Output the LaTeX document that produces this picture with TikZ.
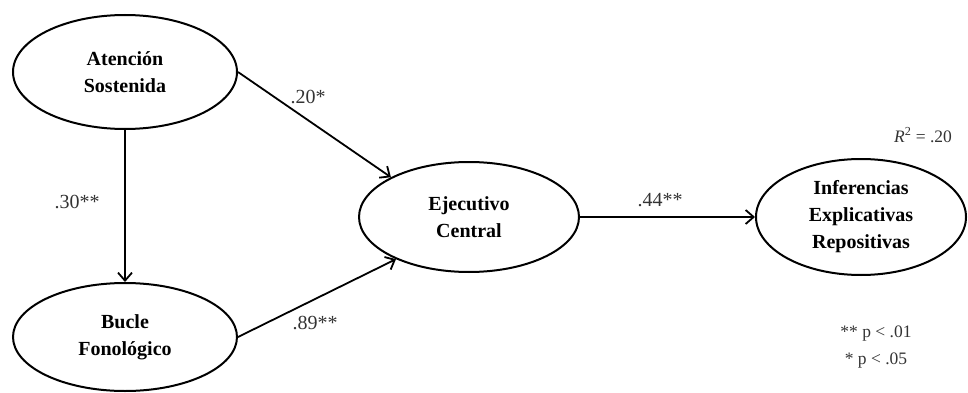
\documentclass[tikz,border=0pt]{standalone}
\usepackage{fontspec}
\setmainfont{Liberation Serif}
\usetikzlibrary{arrows.meta,shapes.geometric}
\tikzset{
  latent/.style={draw, ellipse, line width=2pt, inner sep=0pt, align=center,
    font=\fontsize{20}{27}\selectfont\bfseries},
  coef/.style={font=\fontsize{20}{22}\selectfont, text=black!80},
  note/.style={font=\fontsize{17.5}{27}\selectfont, text=black!80, align=center},
  effect/.style={line width=1.8pt, -{Straight Barb[length=8pt,width=14pt,line width=1.8pt]}}
}
\begin{document}
\begin{tikzpicture}[x=1pt, y=-1pt]
  \useasboundingbox (0,0) rectangle (968,393);
  \node[latent, minimum width=224pt, minimum height=114pt] (aten) at (125,72) {Atención\\Sostenida};
  \node[latent, minimum width=224pt, minimum height=108pt] (bucle) at (125,337) {Bucle\\Fonológico};
  \node[latent, minimum width=220pt, minimum height=110pt] (ejec) at (469,217) {Ejecutivo\\Central};
  \node[latent, minimum width=210pt, minimum height=116pt] (infer) at (861,217) {Inferencias\\Explicativas\\Repositivas};
  \begin{scope}[effect]
    \draw (aten.east) to (ejec.153);
    \draw (aten.south) to (bucle.north);
    \draw (bucle.east) to (ejec.210);
    \draw (ejec.east) to (infer.west);
  \end{scope}
  \node[coef] (c20) at (308,97) {.20*};
  \node[coef] (c30) at (77,202) {.30**};
  \node[coef] (c89) at (315,323) {.89**};
  \node[coef] (c44) at (660,200) {.44**};
  \node[note] (rsq) at (923,135) {\textit{R}\textsuperscript{2} = .20};
  \node[note] (sig) at (876,347) {** p < .01\\* p < .05};
\end{tikzpicture}
\end{document}
